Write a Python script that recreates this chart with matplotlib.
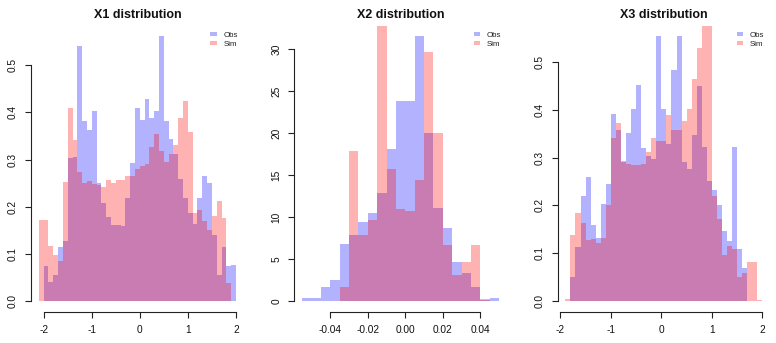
import numpy as np
import matplotlib
matplotlib.use("Agg")
import matplotlib.pyplot as plt
from matplotlib.patches import Rectangle

plt.rcParams['font.family'] = ['Liberation Sans', 'DejaVu Sans']
plt.rcParams['axes.unicode_minus'] = False

# ---------------- data (densities) ----------------
titles = ["X1 distribution", "X2 distribution", "X3 distribution"]
legend_labels = ["Obs", "Sim"]

# X1: bin width 0.1
x1_obs_range = (-2.0, 2.0)
x1_obs = [0.074, 0.040, 0.055, 0.114, 0.127, 0.304, 0.305, 0.540, 0.381, 0.362,
          0.403, 0.250, 0.208, 0.178, 0.161, 0.161, 0.159, 0.218, 0.292, 0.410,
          0.384, 0.428, 0.389, 0.403, 0.561, 0.381, 0.343, 0.311, 0.258, 0.218,
          0.186, 0.163, 0.218, 0.265, 0.250, 0.140, 0.055, 0.114, 0.074, 0.076]
x1_sim_range = (-2.1, 1.9)
x1_sim = [0.172, 0.172, 0.117, 0.097, 0.085, 0.252, 0.409, 0.341, 0.273, 0.251,
          0.254, 0.248, 0.246, 0.242, 0.256, 0.250, 0.256, 0.256, 0.265, 0.265,
          0.280, 0.286, 0.290, 0.326, 0.354, 0.318, 0.294, 0.311, 0.331, 0.388,
          0.424, 0.358, 0.186, 0.193, 0.169, 0.150, 0.180, 0.212, 0.176, 0.038]
x1_xticks = [-2, -1, 0, 1, 2]
x1_xticklabels = ["-2", "-1", "0", "1", "2"]
x1_yticks = [0.0, 0.1, 0.2, 0.3, 0.4, 0.5]
x1_yticklabels = ["0.0", "0.1", "0.2", "0.3", "0.4", "0.5"]

# X2: bin width 0.005
x2_obs_range = (-0.055, 0.050)
x2_obs = [0.32, 0.32, 1.70, 2.50, 6.78, 7.85, 9.39, 10.46, 12.84, 18.07, 23.78,
          23.78, 31.5, 19.98, 11.06, 8.68, 4.64, 3.33, 1.66, 0.16, 0.36]
x2_sim_range = (-0.035, 0.045)
x2_sim = [1.70, 17.84, 7.85, 9.63, 40.4, 15.70, 10.94, 10.70, 14.39, 29.6,
          19.98, 6.66, 3.09, 4.64, 6.66, 0.24]
x2_xticks = [-0.04, -0.02, 0.0, 0.02, 0.04]
x2_xticklabels = ["-0.04", "-0.02", "0.00", "0.02", "0.04"]
x2_yticks = [0, 5, 10, 15, 20, 25, 30]
x2_yticklabels = ["0", "5", "10", "15", "20", "25", "30"]

# X3: bin width 0.1
x3_obs_range = (-1.8, 1.7)
x3_obs = [0.050, 0.113, 0.219, 0.259, 0.159, 0.132, 0.203, 0.244, 0.391, 0.357,
          0.290, 0.351, 0.403, 0.453, 0.320, 0.303, 0.297, 0.554, 0.401, 0.328,
          0.483, 0.554, 0.290, 0.276, 0.347, 0.451, 0.322, 0.251, 0.232, 0.201,
          0.146, 0.125, 0.322, 0.109, 0.069]
x3_sim_range = (-1.9, 2.0)
x3_sim = [0.004, 0.138, 0.184, 0.163, 0.127, 0.130, 0.121, 0.132, 0.201, 0.341,
          0.372, 0.293, 0.286, 0.284, 0.284, 0.286, 0.313, 0.341, 0.334, 0.334,
          0.389, 0.359, 0.359, 0.376, 0.401, 0.464, 0.529, 0.740, 0.730, 0.219,
          0.171, 0.096, 0.115, 0.109, 0.050, 0.058, 0.081, 0.081, 0.003]
x3_xticks = [-2, -1, 0, 1, 2]
x3_xticklabels = ["-2", "-1", "0", "1", "2"]
x3_yticks = [0.0, 0.1, 0.2, 0.3, 0.4, 0.5]
x3_yticklabels = ["0.0", "0.1", "0.2", "0.3", "0.4", "0.5"]

obs_color = (0, 0, 1, 0.3)
sim_color = (1, 0, 0, 0.3)

panels = [
    (x1_obs_range, x1_obs, x1_sim_range, x1_sim, x1_xticks, x1_xticklabels, x1_yticks, x1_yticklabels),
    (x2_obs_range, x2_obs, x2_sim_range, x2_sim, x2_xticks, x2_xticklabels, x2_yticks, x2_yticklabels),
    (x3_obs_range, x3_obs, x3_sim_range, x3_sim, x3_xticks, x3_xticklabels, x3_yticks, x3_yticklabels),
]

# ---------------- layout (pixels) ----------------
W, H = 776, 343
fig = plt.figure(figsize=(W / 100, H / 100), dpi=100)
lefts = [31.0, 294.2, 557.5]
pw = 212.8
ptop, pbot = 25.8, 311.6

for i, (orng, ovals, srng, svals, xt, xtl, yt, ytl) in enumerate(panels):
    left = lefts[i]
    ax = fig.add_axes([left / W, 1 - pbot / H, pw / W, (pbot - ptop) / H])
    oedges = np.linspace(orng[0], orng[1], len(ovals) + 1)
    sedges = np.linspace(srng[0], srng[1], len(svals) + 1)
    ax.stairs(ovals, oedges, fill=True, color=obs_color, lw=0)
    ax.stairs(svals, sedges, fill=True, color=sim_color, lw=0)

    lo = min(oedges[0], sedges[0])
    hi = max(oedges[-1], sedges[-1])
    r = hi - lo
    ax.set_xlim(lo - 0.04 * r, hi + 0.04 * r)
    M = max(ovals)
    ax.set_ylim(-0.04 * M, 1.04 * M)

    for s in ["top", "right"]:
        ax.spines[s].set_visible(False)
    for s in ["left", "bottom"]:
        ax.spines[s].set_linewidth(0.8)
        ax.spines[s].set_color("#222222")
    ax.spines["bottom"].set_bounds(xt[0], xt[-1])
    ax.spines["left"].set_bounds(yt[0], yt[-1])
    ax.set_xticks(xt)
    ax.set_xticklabels(xtl)
    ax.set_yticks(yt)
    ax.set_yticklabels(ytl, rotation=90, va="center")
    ax.tick_params(axis="both", direction="out", length=4.3, width=0.8,
                   color="#222222", labelsize=7.3, labelcolor="#111111")
    ax.tick_params(axis="x", pad=5.5)
    ax.tick_params(axis="y", pad=5.0)
    ax.patch.set_visible(False)

    # title
    cx = (left + pw / 2) / W
    fig.text(cx, 1 - 18.3 / H, titles[i], ha="center", va="baseline",
             fontsize=9, fontweight="bold", color="#111111")

    # legend (top right, no box)
    right = left + pw
    for j, (lab, col) in enumerate(zip(legend_labels, [obs_color, sim_color])):
        yc = 34.2 + j * 8.4
        fig.patches.append(Rectangle(((right - 33.5) / W, 1 - (yc + 1.9) / H),
                                     6.7 / W, 3.8 / H, transform=fig.transFigure,
                                     facecolor=col, edgecolor="none"))
        fig.text((right - 20.5) / W, 1 - (yc + 2.9) / H, lab, ha="left",
                 va="baseline", fontsize=5.7, color="#222222")

fig.savefig("out.png", dpi=100)
